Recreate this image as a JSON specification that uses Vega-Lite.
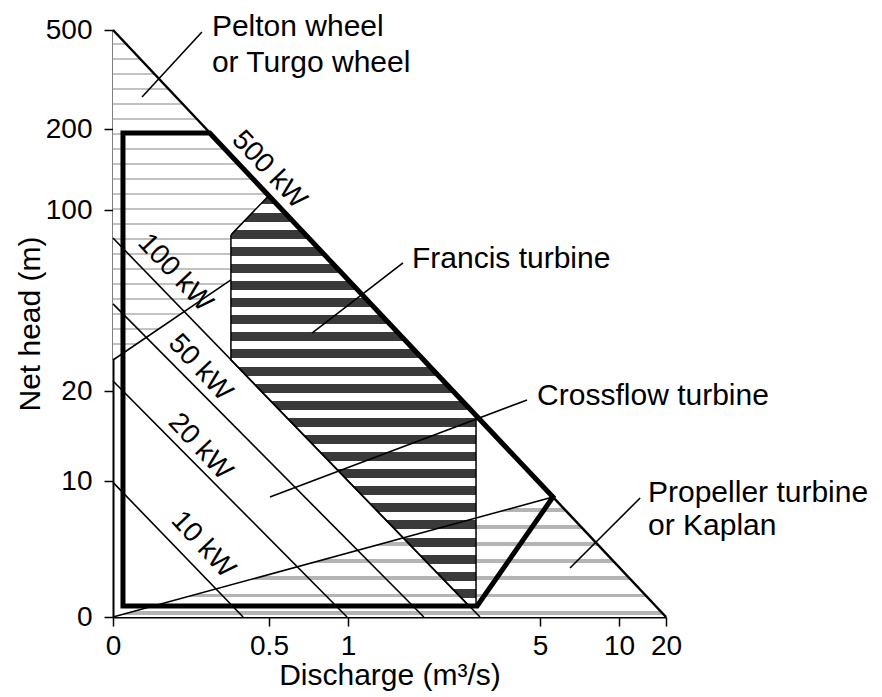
{
  "$schema": "https://vega.github.io/schema/vega-lite/v6.json",
  "autosize": {"type": "none"},
  "padding": {"left": 113, "top": 30, "right": 216, "bottom": 80},
  "width": 553,
  "height": 587,
  "background": "white",
  "config": {"view": {"stroke": null}, "font": "Liberation Sans"},
  "datasets": {
    "polys": [
      {"shape": "pelton", "i": 0, "x": 0, "y": 500},
      {"shape": "pelton", "i": 1, "x": 0.5, "y": 118},
      {"shape": "pelton", "i": 2, "x": 0.378, "y": 89},
      {"shape": "pelton", "i": 3, "x": 0.378, "y": 69.1},
      {"shape": "pelton", "i": 4, "x": 0, "y": 33.7},
      {"shape": "propeller", "i": 0, "x": 0, "y": 0},
      {"shape": "propeller", "i": 1, "x": 5.82, "y": 8.82},
      {"shape": "propeller", "i": 2, "x": 20, "y": 0},
      {"shape": "francis", "i": 0, "x": 0.378, "y": 89},
      {"shape": "francis", "i": 1, "x": 0.5, "y": 118},
      {"shape": "francis", "i": 2, "x": 3.667, "y": 17.3},
      {"shape": "francis", "i": 3, "x": 3.667, "y": 0.81},
      {"shape": "francis", "i": 4, "x": 3.52, "y": 0.81},
      {"shape": "francis", "i": 5, "x": 0.378, "y": 33.7},
      {"shape": "francis", "i": 6, "x": 0.378, "y": 89},
      {"shape": "crossflow", "i": 0, "x": 0.032, "y": 195},
      {"shape": "crossflow", "i": 1, "x": 0.31, "y": 195},
      {"shape": "crossflow", "i": 2, "x": 5.82, "y": 8.82},
      {"shape": "crossflow", "i": 3, "x": 3.69, "y": 0.81},
      {"shape": "crossflow", "i": 4, "x": 0.032, "y": 0.81},
      {"shape": "crossflow", "i": 5, "x": 0.032, "y": 195},
      {"shape": "outer", "i": 0, "x": 0, "y": 500},
      {"shape": "outer", "i": 1, "x": 20, "y": 0}
    ],
    "lines": [
      {"id": "kw10", "i": 0, "x": 0, "y": 9.9},
      {"id": "kw10", "i": 1, "x": 0.417, "y": 0},
      {"id": "kw20", "i": 0, "x": 0, "y": 24.4},
      {"id": "kw20", "i": 1, "x": 0.994, "y": 0},
      {"id": "kw50", "i": 0, "x": 0, "y": 58.5},
      {"id": "kw50", "i": 1, "x": 2.58, "y": 0},
      {"id": "kw100", "i": 0, "x": 0, "y": 87.6},
      {"id": "kw100", "i": 1, "x": 3.75, "y": 0},
      {"id": "peltonEdge", "i": 0, "x": 0, "y": 33.7},
      {"id": "peltonEdge", "i": 1, "x": 0.378, "y": 69.1},
      {"id": "propEdge", "i": 0, "x": 0, "y": 0},
      {"id": "propEdge", "i": 1, "x": 5.82, "y": 8.82},
      {"id": "ptrPelton", "i": 0, "x": 0.093, "y": 297},
      {"id": "ptrPelton", "i": 1, "x": 0.285, "y": 494},
      {"id": "ptrFrancis", "i": 0, "x": 0.772, "y": 45.6},
      {"id": "ptrFrancis", "i": 1, "x": 2.146, "y": 76.6},
      {"id": "ptrCross", "i": 0, "x": 0.506, "y": 8.82},
      {"id": "ptrCross", "i": 1, "x": 4.73, "y": 19.0},
      {"id": "ptrProp", "i": 0, "x": 6.9, "y": 3.6},
      {"id": "ptrProp", "i": 1, "x": 14.5, "y": 8.75}
    ],
    "labels": [
      {"text": "Pelton wheel", "x": 0.317, "y": 481.8},
      {"text": "or Turgo wheel", "x": 0.317, "y": 372.7},
      {"text": "Francis turbine", "x": 2.333, "y": 74.4},
      {"text": "Crossflow turbine", "x": 4.94, "y": 18.44},
      {"text": "Propeller turbine", "x": 16.17, "y": 8.46},
      {"text": "or Kaplan", "x": 16.17, "y": 6.03}
    ],
    "kw": [
      {"text": "500 kW", "x": 0.5, "y": 149.4},
      {"text": "100 kW", "x": 0.199, "y": 72.2},
      {"text": "50 kW", "x": 0.279, "y": 30.2},
      {"text": "20 kW", "x": 0.279, "y": 13.8},
      {"text": "10 kW", "x": 0.288, "y": 5.3}
    ]
  },
  "encoding": {
    "x": {
      "field": "x", "type": "quantitative",
      "scale": {"type": "linear", "domain": [0, 0.5, 1, 5, 10, 20], "range": [0, 156, 235, 427, 506, 553], "nice": false, "zero": false},
      "axis": {
        "values": [0, 0.5, 1, 5, 10, 20], "labelExpr": "'' + datum.value", "title": "Discharge (m³/s)",
        "grid": false, "tickSize": 9, "tickWidth": 1.5, "tickColor": "black",
        "domainColor": "black", "domainWidth": 2,
        "labelFontSize": 28, "labelFont": "Liberation Sans", "labelColor": "black", "labelPadding": 6,
        "labelFlush": false, "labelOverlap": false,
        "titleFontSize": 30, "titleFont": "Liberation Sans", "titleFontWeight": "normal", "titleColor": "black", "titlePadding": 0
      }
    },
    "y": {
      "field": "y", "type": "quantitative",
      "scale": {"type": "linear", "domain": [0, 10, 20, 100, 200, 500], "range": [587, 451, 361, 180, 99, 0], "nice": false, "zero": false},
      "axis": {
        "values": [0, 10, 20, 100, 200, 500], "labelExpr": "'' + datum.value", "title": "Net head (m)",
        "grid": false, "tickSize": 9, "tickWidth": 1.5, "tickColor": "black",
        "domainColor": "black", "domainWidth": 2,
        "labelFontSize": 28, "labelFont": "Liberation Sans", "labelColor": "black", "labelPadding": 12,
        "labelFlush": false, "labelOverlap": false,
        "titleFontSize": 30, "titleFont": "Liberation Sans", "titleFontWeight": "normal", "titleColor": "black", "titlePadding": 0
      }
    }
  },
  "layer": [
    {
      "data": {"name": "polys"},
      "transform": [{"filter": "datum.shape === 'pelton'"}],
      "mark": {"type": "line", "strokeWidth": 0, "stroke": null, "fill": {"gradient": "linear", "x1": 0, "y1": 0, "x2": 0, "y2": 1, "stops": [
        {"offset": 0, "color": "#ffffff"}, {"offset": 0.038, "color": "#ffffff"}, {"offset": 0.038, "color": "#c2c2c2"}, {"offset": 0.0455, "color": "#c2c2c2"},
        {"offset": 0.0455, "color": "#ffffff"}, {"offset": 0.0834, "color": "#ffffff"}, {"offset": 0.0834, "color": "#c2c2c2"}, {"offset": 0.0909, "color": "#c2c2c2"},
        {"offset": 0.0909, "color": "#ffffff"}, {"offset": 0.1289, "color": "#ffffff"}, {"offset": 0.1289, "color": "#c2c2c2"}, {"offset": 0.1364, "color": "#c2c2c2"},
        {"offset": 0.1364, "color": "#ffffff"}, {"offset": 0.1744, "color": "#ffffff"}, {"offset": 0.1744, "color": "#c2c2c2"}, {"offset": 0.1818, "color": "#c2c2c2"},
        {"offset": 0.1818, "color": "#ffffff"}, {"offset": 0.2198, "color": "#ffffff"}, {"offset": 0.2198, "color": "#c2c2c2"}, {"offset": 0.2273, "color": "#c2c2c2"},
        {"offset": 0.2273, "color": "#ffffff"}, {"offset": 0.2653, "color": "#ffffff"}, {"offset": 0.2653, "color": "#c2c2c2"}, {"offset": 0.2727, "color": "#c2c2c2"},
        {"offset": 0.2727, "color": "#ffffff"}, {"offset": 0.3107, "color": "#ffffff"}, {"offset": 0.3107, "color": "#c2c2c2"}, {"offset": 0.3182, "color": "#c2c2c2"},
        {"offset": 0.3182, "color": "#ffffff"}, {"offset": 0.3562, "color": "#ffffff"}, {"offset": 0.3562, "color": "#c2c2c2"}, {"offset": 0.3636, "color": "#c2c2c2"},
        {"offset": 0.3636, "color": "#ffffff"}, {"offset": 0.4016, "color": "#ffffff"}, {"offset": 0.4016, "color": "#c2c2c2"}, {"offset": 0.4091, "color": "#c2c2c2"},
        {"offset": 0.4091, "color": "#ffffff"}, {"offset": 0.4471, "color": "#ffffff"}, {"offset": 0.4471, "color": "#c2c2c2"}, {"offset": 0.4545, "color": "#c2c2c2"},
        {"offset": 0.4545, "color": "#ffffff"}, {"offset": 0.4925, "color": "#ffffff"}, {"offset": 0.4925, "color": "#c2c2c2"}, {"offset": 0.5, "color": "#c2c2c2"},
        {"offset": 0.5, "color": "#ffffff"}, {"offset": 0.538, "color": "#ffffff"}, {"offset": 0.538, "color": "#c2c2c2"}, {"offset": 0.5455, "color": "#c2c2c2"},
        {"offset": 0.5455, "color": "#ffffff"}, {"offset": 0.5835, "color": "#ffffff"}, {"offset": 0.5835, "color": "#c2c2c2"}, {"offset": 0.5909, "color": "#c2c2c2"},
        {"offset": 0.5909, "color": "#ffffff"}, {"offset": 0.6289, "color": "#ffffff"}, {"offset": 0.6289, "color": "#c2c2c2"}, {"offset": 0.6364, "color": "#c2c2c2"},
        {"offset": 0.6364, "color": "#ffffff"}, {"offset": 0.6744, "color": "#ffffff"}, {"offset": 0.6744, "color": "#c2c2c2"}, {"offset": 0.6818, "color": "#c2c2c2"},
        {"offset": 0.6818, "color": "#ffffff"}, {"offset": 0.7198, "color": "#ffffff"}, {"offset": 0.7198, "color": "#c2c2c2"}, {"offset": 0.7273, "color": "#c2c2c2"},
        {"offset": 0.7273, "color": "#ffffff"}, {"offset": 0.7653, "color": "#ffffff"}, {"offset": 0.7653, "color": "#c2c2c2"}, {"offset": 0.7727, "color": "#c2c2c2"},
        {"offset": 0.7727, "color": "#ffffff"}, {"offset": 0.8107, "color": "#ffffff"}, {"offset": 0.8107, "color": "#c2c2c2"}, {"offset": 0.8182, "color": "#c2c2c2"},
        {"offset": 0.8182, "color": "#ffffff"}, {"offset": 0.8562, "color": "#ffffff"}, {"offset": 0.8562, "color": "#c2c2c2"}, {"offset": 0.8636, "color": "#c2c2c2"},
        {"offset": 0.8636, "color": "#ffffff"}, {"offset": 0.9016, "color": "#ffffff"}, {"offset": 0.9016, "color": "#c2c2c2"}, {"offset": 0.9091, "color": "#c2c2c2"},
        {"offset": 0.9091, "color": "#ffffff"}, {"offset": 0.9471, "color": "#ffffff"}, {"offset": 0.9471, "color": "#c2c2c2"}, {"offset": 0.9545, "color": "#c2c2c2"},
        {"offset": 0.9545, "color": "#ffffff"}, {"offset": 0.9925, "color": "#ffffff"}, {"offset": 0.9925, "color": "#c2c2c2"}, {"offset": 1, "color": "#c2c2c2"}
      ]}},
      "encoding": {"order": {"field": "i", "type": "quantitative"}}
    },
    {
      "data": {"name": "polys"},
      "transform": [{"filter": "datum.shape === 'propeller'"}],
      "mark": {"type": "line", "strokeWidth": 0, "stroke": null, "fill": {"gradient": "linear", "x1": 0, "y1": 0, "x2": 0, "y2": 1, "stops": [
        {"offset": 0, "color": "#ffffff"},
        {"offset": 0.09, "color": "#ffffff"}, {"offset": 0.09, "color": "#b4b4b4"}, {"offset": 0.123, "color": "#b4b4b4"}, {"offset": 0.123, "color": "#ffffff"},
        {"offset": 0.2329, "color": "#ffffff"}, {"offset": 0.2329, "color": "#b4b4b4"}, {"offset": 0.2659, "color": "#b4b4b4"}, {"offset": 0.2659, "color": "#ffffff"},
        {"offset": 0.3757, "color": "#ffffff"}, {"offset": 0.3757, "color": "#b4b4b4"}, {"offset": 0.4087, "color": "#b4b4b4"}, {"offset": 0.4087, "color": "#ffffff"},
        {"offset": 0.5186, "color": "#ffffff"}, {"offset": 0.5186, "color": "#b4b4b4"}, {"offset": 0.5516, "color": "#b4b4b4"}, {"offset": 0.5516, "color": "#ffffff"},
        {"offset": 0.6614, "color": "#ffffff"}, {"offset": 0.6614, "color": "#b4b4b4"}, {"offset": 0.6944, "color": "#b4b4b4"}, {"offset": 0.6944, "color": "#ffffff"},
        {"offset": 0.8043, "color": "#ffffff"}, {"offset": 0.8043, "color": "#b4b4b4"}, {"offset": 0.8373, "color": "#b4b4b4"}, {"offset": 0.8373, "color": "#ffffff"},
        {"offset": 0.9471, "color": "#ffffff"}, {"offset": 0.9471, "color": "#b4b4b4"}, {"offset": 0.9801, "color": "#b4b4b4"}, {"offset": 0.9801, "color": "#ffffff"},
        {"offset": 1, "color": "#ffffff"}
      ]}},
      "encoding": {"order": {"field": "i", "type": "quantitative"}}
    },
    {
      "data": {"name": "polys"},
      "transform": [{"filter": "datum.shape === 'francis'"}],
      "mark": {"type": "line", "strokeWidth": 1.5, "stroke": "black", "fill": {"gradient": "linear", "x1": 0, "y1": 0, "x2": 0, "y2": 1, "stops": [
        {"offset": 0, "color": "#3a3a3a"}, {"offset": 0.022, "color": "#3a3a3a"}, {"offset": 0.022, "color": "#ffffff"}, {"offset": 0.0417, "color": "#ffffff"},
        {"offset": 0.0417, "color": "#3a3a3a"}, {"offset": 0.0637, "color": "#3a3a3a"}, {"offset": 0.0637, "color": "#ffffff"}, {"offset": 0.0833, "color": "#ffffff"},
        {"offset": 0.0833, "color": "#3a3a3a"}, {"offset": 0.1053, "color": "#3a3a3a"}, {"offset": 0.1053, "color": "#ffffff"}, {"offset": 0.125, "color": "#ffffff"},
        {"offset": 0.125, "color": "#3a3a3a"}, {"offset": 0.147, "color": "#3a3a3a"}, {"offset": 0.147, "color": "#ffffff"}, {"offset": 0.1667, "color": "#ffffff"},
        {"offset": 0.1667, "color": "#3a3a3a"}, {"offset": 0.1887, "color": "#3a3a3a"}, {"offset": 0.1887, "color": "#ffffff"}, {"offset": 0.2083, "color": "#ffffff"},
        {"offset": 0.2083, "color": "#3a3a3a"}, {"offset": 0.2303, "color": "#3a3a3a"}, {"offset": 0.2303, "color": "#ffffff"}, {"offset": 0.25, "color": "#ffffff"},
        {"offset": 0.25, "color": "#3a3a3a"}, {"offset": 0.272, "color": "#3a3a3a"}, {"offset": 0.272, "color": "#ffffff"}, {"offset": 0.2917, "color": "#ffffff"},
        {"offset": 0.2917, "color": "#3a3a3a"}, {"offset": 0.3137, "color": "#3a3a3a"}, {"offset": 0.3137, "color": "#ffffff"}, {"offset": 0.3333, "color": "#ffffff"},
        {"offset": 0.3333, "color": "#3a3a3a"}, {"offset": 0.3553, "color": "#3a3a3a"}, {"offset": 0.3553, "color": "#ffffff"}, {"offset": 0.375, "color": "#ffffff"},
        {"offset": 0.375, "color": "#3a3a3a"}, {"offset": 0.397, "color": "#3a3a3a"}, {"offset": 0.397, "color": "#ffffff"}, {"offset": 0.4167, "color": "#ffffff"},
        {"offset": 0.4167, "color": "#3a3a3a"}, {"offset": 0.4387, "color": "#3a3a3a"}, {"offset": 0.4387, "color": "#ffffff"}, {"offset": 0.4583, "color": "#ffffff"},
        {"offset": 0.4583, "color": "#3a3a3a"}, {"offset": 0.4803, "color": "#3a3a3a"}, {"offset": 0.4803, "color": "#ffffff"}, {"offset": 0.5, "color": "#ffffff"},
        {"offset": 0.5, "color": "#3a3a3a"}, {"offset": 0.522, "color": "#3a3a3a"}, {"offset": 0.522, "color": "#ffffff"}, {"offset": 0.5417, "color": "#ffffff"},
        {"offset": 0.5417, "color": "#3a3a3a"}, {"offset": 0.5637, "color": "#3a3a3a"}, {"offset": 0.5637, "color": "#ffffff"}, {"offset": 0.5833, "color": "#ffffff"},
        {"offset": 0.5833, "color": "#3a3a3a"}, {"offset": 0.6053, "color": "#3a3a3a"}, {"offset": 0.6053, "color": "#ffffff"}, {"offset": 0.625, "color": "#ffffff"},
        {"offset": 0.625, "color": "#3a3a3a"}, {"offset": 0.647, "color": "#3a3a3a"}, {"offset": 0.647, "color": "#ffffff"}, {"offset": 0.6667, "color": "#ffffff"},
        {"offset": 0.6667, "color": "#3a3a3a"}, {"offset": 0.6887, "color": "#3a3a3a"}, {"offset": 0.6887, "color": "#ffffff"}, {"offset": 0.7083, "color": "#ffffff"},
        {"offset": 0.7083, "color": "#3a3a3a"}, {"offset": 0.7303, "color": "#3a3a3a"}, {"offset": 0.7303, "color": "#ffffff"}, {"offset": 0.75, "color": "#ffffff"},
        {"offset": 0.75, "color": "#3a3a3a"}, {"offset": 0.772, "color": "#3a3a3a"}, {"offset": 0.772, "color": "#ffffff"}, {"offset": 0.7917, "color": "#ffffff"},
        {"offset": 0.7917, "color": "#3a3a3a"}, {"offset": 0.8137, "color": "#3a3a3a"}, {"offset": 0.8137, "color": "#ffffff"}, {"offset": 0.8333, "color": "#ffffff"},
        {"offset": 0.8333, "color": "#3a3a3a"}, {"offset": 0.8553, "color": "#3a3a3a"}, {"offset": 0.8553, "color": "#ffffff"}, {"offset": 0.875, "color": "#ffffff"},
        {"offset": 0.875, "color": "#3a3a3a"}, {"offset": 0.897, "color": "#3a3a3a"}, {"offset": 0.897, "color": "#ffffff"}, {"offset": 0.9167, "color": "#ffffff"},
        {"offset": 0.9167, "color": "#3a3a3a"}, {"offset": 0.9387, "color": "#3a3a3a"}, {"offset": 0.9387, "color": "#ffffff"}, {"offset": 0.9583, "color": "#ffffff"},
        {"offset": 0.9583, "color": "#3a3a3a"}, {"offset": 0.9803, "color": "#3a3a3a"}, {"offset": 0.9803, "color": "#ffffff"}, {"offset": 1, "color": "#ffffff"}
      ]}},
      "encoding": {"order": {"field": "i", "type": "quantitative"}}
    },
    {
      "data": {"name": "lines"},
      "mark": {"type": "line", "stroke": "black", "strokeWidth": 1.6},
      "encoding": {
        "detail": {"field": "id", "type": "nominal"},
        "order": {"field": "i", "type": "quantitative"}
      }
    },
    {
      "data": {"name": "polys"},
      "transform": [{"filter": "datum.shape === 'outer'"}],
      "mark": {"type": "line", "stroke": "black", "strokeWidth": 2.5},
      "encoding": {"order": {"field": "i", "type": "quantitative"}}
    },
    {
      "data": {"name": "polys"},
      "transform": [{"filter": "datum.shape === 'crossflow'"}],
      "mark": {"type": "line", "stroke": "black", "strokeWidth": 5, "strokeJoin": "miter", "strokeCap": "square"},
      "encoding": {"order": {"field": "i", "type": "quantitative"}}
    },
    {
      "data": {"name": "labels"},
      "mark": {"type": "text", "align": "left", "baseline": "alphabetic", "fontSize": 30, "font": "Liberation Sans", "color": "black"},
      "encoding": {"text": {"field": "text", "type": "nominal"}}
    },
    {
      "data": {"name": "kw"},
      "mark": {"type": "text", "align": "center", "baseline": "middle", "angle": 47, "fontSize": 28, "font": "Liberation Sans", "color": "black"},
      "encoding": {"text": {"field": "text", "type": "nominal"}}
    }
  ]
}
